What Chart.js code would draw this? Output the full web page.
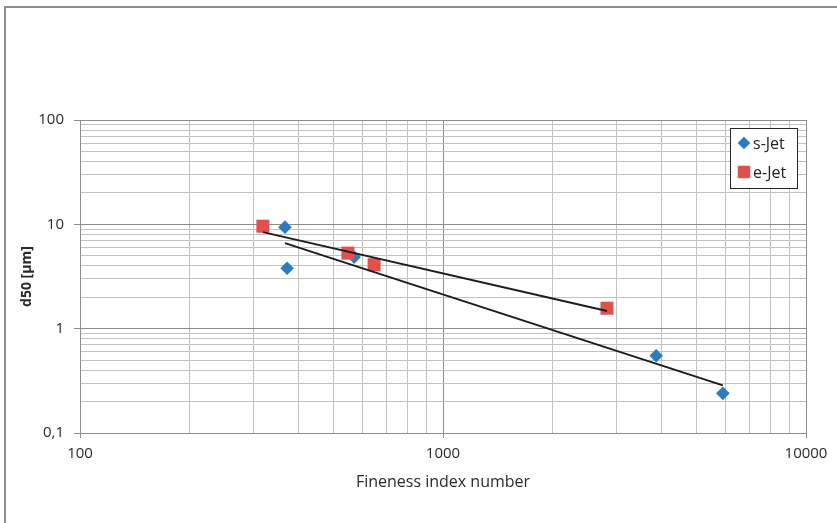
<!DOCTYPE html>
<html>
<head>
<meta charset="utf-8">
<script src="https://cdn.jsdelivr.net/npm/chart.js@4/dist/chart.umd.min.js"></script>
<style>
  html, body { margin: 0; padding: 0; background: #ffffff; }
  #wrap { width: 837px; height: 523px; position: relative; }
</style>
</head>
<body>
<div id="wrap"><canvas id="chart" width="837" height="523"></canvas></div>
<script>
// Measured samples: fineness index number vs. median particle size d50 [µm]
const sJetLabel = 's-Jet';
const sJetFineness = [367, 372, 569, 3866, 5902];
const sJetD50 = [9.4, 3.8, 4.85, 0.55, 0.24];

const eJetLabel = 'e-Jet';
const eJetFineness = [319, 547, 646, 2830];
const eJetD50 = [9.6, 5.3, 4.1, 1.57];

// Axis decades and their printed labels (German decimal comma)
const xTickValues = [100, 1000, 10000];
const xTickLabels = ['100', '1000', '10000'];
const yTickValues = [0.1, 1, 10, 100];
const yTickLabels = ['0,1', '1', '10', '100'];

const xTitle = 'Fineness index number';
const yTitle = 'd50 [µm]';

const blue = '#2a7bc0';
const red = '#e0504d';
const majorGrid = '#8e8e8e';
const minorGrid = '#c2c2c2';
const textColor = '#2a2a2a';

Chart.defaults.font.family = "'Open Sans', 'Liberation Sans', sans-serif";
Chart.defaults.color = textColor;

const toPoints = (xs, ys) => xs.map((x, i) => ({ x: x, y: ys[i] }));

// Power-law trend line (least squares in log-log space) across the series' x range
function powerTrend(xs, ys) {
  const lx = xs.map(Math.log10), ly = ys.map(Math.log10);
  const n = lx.length;
  const mx = lx.reduce((a, b) => a + b, 0) / n;
  const my = ly.reduce((a, b) => a + b, 0) / n;
  let sxy = 0, sxx = 0;
  for (let i = 0; i < n; i++) { sxy += (lx[i] - mx) * (ly[i] - my); sxx += (lx[i] - mx) ** 2; }
  const slope = sxy / sxx;
  const at = x => Math.pow(10, my + slope * (Math.log10(x) - mx));
  const x0 = Math.min(...xs), x1 = Math.max(...xs);
  return [{ x: x0, y: at(x0) }, { x: x1, y: at(x1) }];
}

// Full log grid: 1..9 within every decade between the first and last decade value
function logGrid(decades) {
  const out = [];
  for (let i = 0; i < decades.length - 1; i++) {
    for (let m = 1; m < 10; m++) out.push(m * decades[i]);
  }
  out.push(decades[decades.length - 1]);
  return out;
}

const near = (a, b) => Math.abs(a - b) / b < 1e-6;
const isDecade = (v, list) => list.some(d => near(v, d));
const labelFor = (v, values, labels) => {
  const i = values.findIndex(d => near(v, d));
  return i >= 0 ? labels[i] : '';
};

// Frame line along the left and top edges of the figure
const framePlugin = {
  id: 'frame',
  beforeDraw(chart) {
    const ctx = chart.ctx;
    ctx.save();
    ctx.fillStyle = '#ffffff';
    ctx.fillRect(0, 0, chart.width, chart.height);
    ctx.strokeStyle = '#8f8f8f';
    ctx.lineWidth = 2;
    ctx.beginPath();
    ctx.moveTo(5, chart.height);
    ctx.lineTo(5, 7);
    ctx.lineTo(chart.width, 7);
    ctx.stroke();
    ctx.restore();
  }
};

// Boxed legend in the upper right corner of the plot area
const boxLegendPlugin = {
  id: 'boxLegend',
  afterDraw(chart) {
    const ctx = chart.ctx;
    const area = chart.chartArea;
    const w = 67, h = 60;
    const left = area.right - 9 - w, top = area.top + 8;
    ctx.save();
    ctx.fillStyle = '#ffffff';
    ctx.fillRect(left, top, w, h);
    ctx.strokeStyle = '#262626';
    ctx.lineWidth = 1;
    ctx.strokeRect(left + 0.5, top + 0.5, w, h);
    const items = chart.data.datasets.filter(d => d.showInBoxLegend);
    ctx.font = "16px 'Open Sans', sans-serif";
    ctx.textBaseline = 'middle';
    items.forEach((ds, i) => {
      const cy = top + 15 + i * 29;
      ctx.fillStyle = ds.backgroundColor;
      Chart.helpers.drawPoint(ctx, {
        pointStyle: ds.pointStyle, radius: ds.legendRadius, rotation: 0, borderWidth: 0
      }, left + 14, cy);
      ctx.fillStyle = '#222222';
      ctx.fillText(ds.label, left + 23, cy + 1);
    });
    ctx.restore();
  }
};

const chart = new Chart(document.getElementById('chart'), {
  type: 'scatter',
  data: {
    datasets: [
      {
        type: 'line', label: sJetLabel + ' trend',
        data: powerTrend(sJetFineness, sJetD50),
        borderColor: '#1c1c1c', borderWidth: 2, pointRadius: 0, fill: false, order: 0
      },
      {
        type: 'line', label: eJetLabel + ' trend',
        data: powerTrend(eJetFineness, eJetD50),
        borderColor: '#1c1c1c', borderWidth: 2, pointRadius: 0, fill: false, order: 0
      },
      {
        label: sJetLabel, data: toPoints(sJetFineness, sJetD50),
        pointStyle: 'rectRot', pointRadius: 6.8, legendRadius: 6.3,
        backgroundColor: blue, borderColor: blue, borderWidth: 0, order: 2,
        showInBoxLegend: true
      },
      {
        label: eJetLabel, data: toPoints(eJetFineness, eJetD50),
        pointStyle: 'rect', pointRadius: 9.2, legendRadius: 8.8,
        backgroundColor: red, borderColor: red, borderWidth: 0, order: 1,
        showInBoxLegend: true
      }
    ]
  },
  options: {
    responsive: false,
    animation: false,
    devicePixelRatio: 1,
    layout: { padding: { top: 120, right: 31, left: 0, bottom: 0 } },
    plugins: { legend: { display: false }, tooltip: { enabled: false } },
    scales: {
      x: {
        type: 'logarithmic',
        min: xTickValues[0], max: xTickValues[xTickValues.length - 1],
        afterBuildTicks: s => { s.ticks = logGrid(xTickValues).map(v => ({ value: v })); },
        afterFit: s => { s.height = 90; },
        ticks: {
          autoSkip: false, maxRotation: 0, padding: 7,
          font: { size: 15 }, color: textColor,
          callback: v => labelFor(v, xTickValues, xTickLabels)
        },
        grid: {
          color: c => isDecade(c.tick.value, xTickValues) ? majorGrid : minorGrid,
          tickColor: c => isDecade(c.tick.value, xTickValues) ? majorGrid : 'rgba(0,0,0,0)',
          tickLength: 5, lineWidth: 1
        },
        border: { color: majorGrid, width: 1 },
        title: {
          display: true, text: xTitle, color: textColor,
          font: { size: 16 }, padding: { top: 0, bottom: 31 }
        }
      },
      y: {
        type: 'logarithmic',
        min: yTickValues[0], max: yTickValues[yTickValues.length - 1],
        afterBuildTicks: s => { s.ticks = logGrid(yTickValues).map(v => ({ value: v })); },
        afterFit: s => { s.width = 80; },
        ticks: {
          autoSkip: false, padding: 10,
          font: { size: 15 }, color: textColor,
          callback: v => labelFor(v, yTickValues, yTickLabels)
        },
        grid: {
          color: c => isDecade(c.tick.value, yTickValues) ? majorGrid : minorGrid,
          tickColor: c => isDecade(c.tick.value, yTickValues) ? majorGrid : 'rgba(0,0,0,0)',
          tickLength: 6, lineWidth: 1
        },
        border: { color: majorGrid, width: 1 },
        title: {
          display: true, text: yTitle, color: textColor,
          font: { size: 14, weight: 'bold' }, padding: { top: 19, bottom: 0 }
        }
      }
    }
  },
  plugins: [framePlugin, boxLegendPlugin]
});
</script>
</body>
</html>
